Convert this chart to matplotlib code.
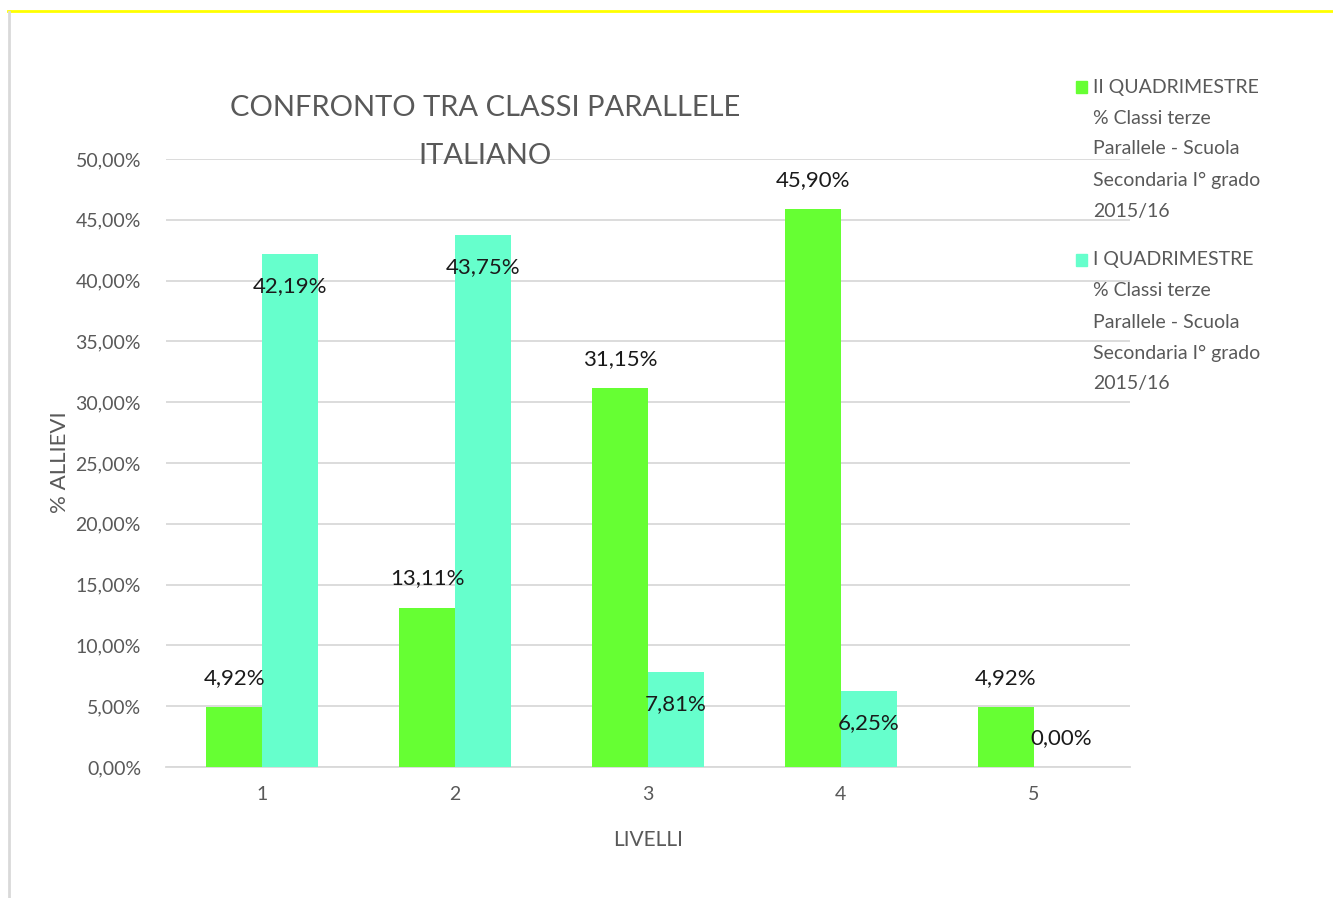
import matplotlib.pyplot as plt
from matplotlib.lines import Line2D
from matplotlib.patches import Rectangle
import numpy as np

# Dati del grafico
livelli = ['1', '2', '3', '4', '5']
secondo_quad = [4.92, 13.11, 31.15, 45.90, 4.92]
primo_quad = [42.19, 43.75, 7.81, 6.25, 0.00]
etichette_serie = [
    'II QUADRIMESTRE\n% Classi terze\nParallele - Scuola\nSecondaria I° grado\n2015/16',
    'I QUADRIMESTRE\n% Classi terze\nParallele - Scuola\nSecondaria I° grado\n2015/16',
]
tick_y = [0, 5, 10, 15, 20, 25, 30, 35, 40, 45, 50]

VERDE = '#66FF33'
ACQUA = '#66FFCC'
GRIGIO = '#595959'

plt.rcParams['font.family'] = ['Lato', 'DejaVu Sans']

fig = plt.figure(figsize=(13.33, 8.98), dpi=100)
ax = fig.add_axes([166 / 1333, 1 - 767 / 898, 964 / 1333, 608 / 898])

x = np.arange(1, len(livelli) + 1)
w = 0.29
ax.bar(x - w / 2, secondo_quad, w, color=VERDE, zorder=3)
ax.bar(x + w / 2, primo_quad, w, color=ACQUA, zorder=3)

# Etichette dei valori
for xi, v in zip(x - w / 2, secondo_quad):
    ax.annotate(f'{v:.2f}%'.replace('.', ','), (xi, v), textcoords='offset pixels',
                xytext=(0, 29), ha='center', va='center', fontsize=16, color='#1a1a1a')
for xi, v in zip(x + w / 2, primo_quad):
    dy = 29 if v == 0 else -32
    ax.annotate(f'{v:.2f}%'.replace('.', ','), (xi, v), textcoords='offset pixels',
                xytext=(0, dy), ha='center', va='center', fontsize=16, color='#1a1a1a')

ax.set_xlim(0.5, 5.5)
ax.set_ylim(0, 50)
ax.set_xticks(x)
ax.set_xticklabels(livelli)
ax.set_yticks(tick_y)
ax.set_yticklabels([f'{t:.2f}%'.replace('.', ',') for t in tick_y])
ax.tick_params(length=0, labelsize=14, colors=GRIGIO)
ax.tick_params(axis='y', pad=18)
ax.tick_params(axis='x', pad=14)
ax.grid(axis='y', color='#D9D9D9', linewidth=1.3, zorder=0)
for s in ['top', 'right', 'left']:
    ax.spines[s].set_visible(False)
ax.spines['bottom'].set_color('#D9D9D9')
ax.spines['bottom'].set_linewidth(1.3)

fig.text(60 / 1333, 1 - 462 / 898, '% ALLIEVI', rotation=90, ha='center', va='center',
         fontsize=16, color=GRIGIO)
fig.text(648 / 1333, 1 - 840 / 898, 'LIVELLI', ha='center', va='center',
         fontsize=15, color=GRIGIO)

# Titolo
fig.text(485 / 1333, 1 - 108 / 898, 'CONFRONTO TRA CLASSI PARALLELE', ha='center', va='center',
         fontsize=21, color=GRIGIO)
fig.text(485 / 1333, 1 - 156 / 898, 'ITALIANO', ha='center', va='center',
         fontsize=21, color=GRIGIO)

# Legenda
for i, (lab, col) in enumerate(zip(etichette_serie, [VERDE, ACQUA])):
    y0 = 87 + i * 173
    fig.patches.append(Rectangle((1076 / 1333, 1 - (y0 + 6) / 898), 11 / 1333, 12 / 898,
                                 transform=fig.transFigure, color=col))
    for j, riga in enumerate(lab.split('\n')):
        fig.text(1093 / 1333, 1 - (y0 + j * 31) / 898, riga, ha='left', va='center',
                 fontsize=14, color=GRIGIO)

# Bordo
fig.add_artist(Line2D([8 / 1333, 1], [1 - 11 / 898, 1 - 11 / 898], color='#FFFF00', linewidth=2,
                      transform=fig.transFigure))
fig.add_artist(Line2D([9 / 1333, 9 / 1333], [0, 1 - 12 / 898], color='#D9D9D9', linewidth=2,
                      transform=fig.transFigure))

fig.savefig('out.png', dpi=100)
